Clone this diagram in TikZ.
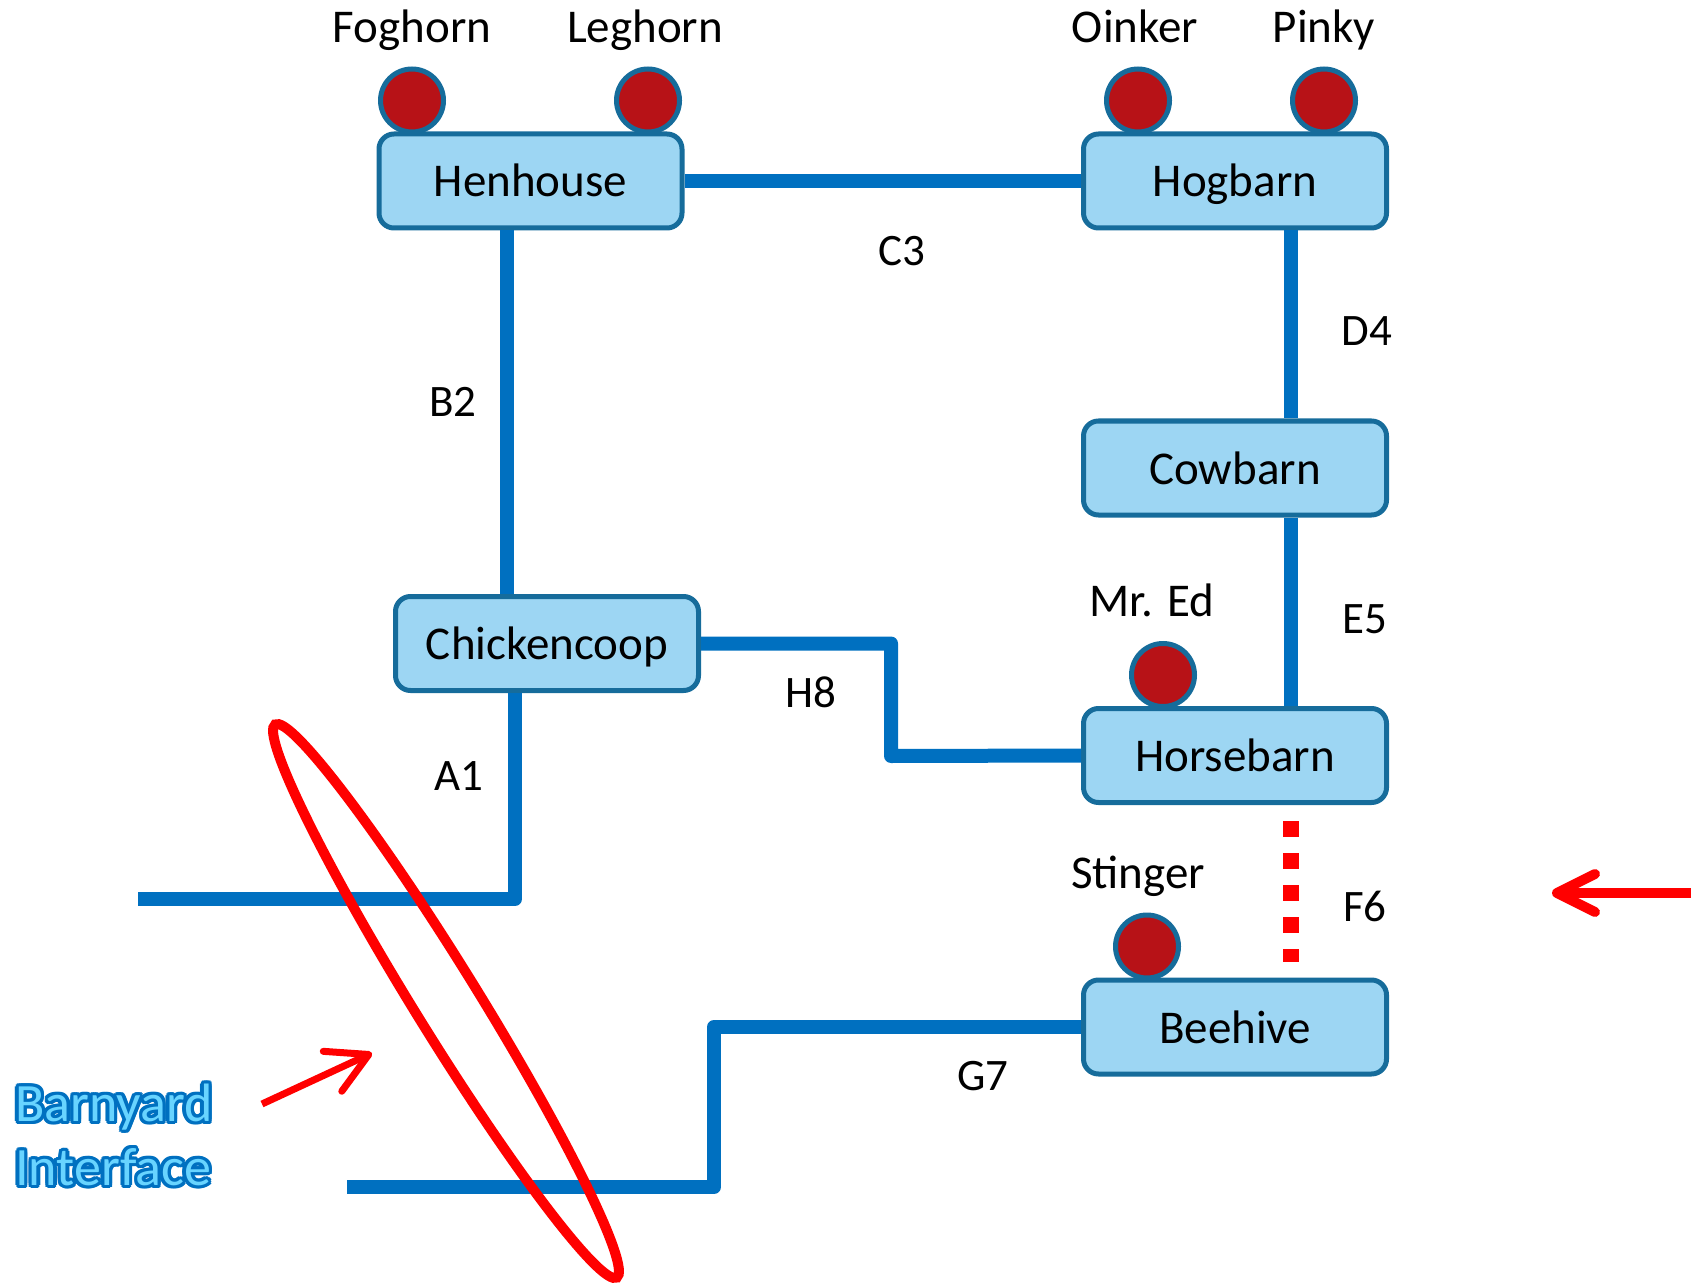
\documentclass[tikz,border=0pt]{standalone}
\usepackage{fontspec}
\setmainfont{Carlito}
\usepackage{tikz}
\usepackage{xcolor}
\usetikzlibrary{arrows.meta,positioning,calc}
\definecolor{Wire}{RGB}{0,112,192}
\definecolor{BoxFill}{RGB}{157,214,243}
\definecolor{BoxEdge}{RGB}{22,108,155}
\definecolor{Critter}{RGB}{183,18,23}
\definecolor{YardFill}{RGB}{104,212,255}

\begin{document}
\begin{tikzpicture}[x=0.5pt,y=-0.5pt,
    barn/.style={draw=BoxEdge, line width=2.5pt, fill=BoxFill, rounded corners=7.5pt,
      minimum width=151.5pt, minimum height=47pt, text height=18pt, text depth=2pt,
      font=\fontsize{23.5}{28}\selectfont},
    critter/.style={circle, draw=BoxEdge, line width=2.5pt, fill=Critter, minimum size=31.5pt, inner sep=0pt},
    tag/.style={inner sep=0pt, text height=16pt, text depth=2pt, font=\fontsize{23.5}{28}\selectfont},
    wirelabel/.style={inner sep=0pt, font=\fontsize{22.5}{27}\selectfont},
    link/.style={draw=Wire, line width=7pt, line join=round},
    dotlink/.style={draw=red, line width=8pt, dash pattern=on 8pt off 8pt, shorten <=8pt, shorten >=8pt},
    ring/.style={draw=red, line width=5pt},
    yard/.style={align=left, inner sep=0pt, font=\fontsize{27}{32}\selectfont}]
  \useasboundingbox (0,0) rectangle (1691,1283);

  % barns
  \node[barn] (hen) at (530.5,181) {Henhouse};
  \node[barn] (hog) at (1235,181) {Hogbarn};
  \node[barn] (cow) at (1235,468) {Cowbarn};
  \node[barn] (coop) at (547,643.5) {Chickencoop};
  \node[barn] (horse) at (1235,755.5) {Horsebarn};
  \node[barn] (bee) at (1235,1027) {Beehive};

  % animals sitting on the barns
  \foreach \n/\b/\dx/\lx/\t in {fog/hen/-59.25/0/Foghorn, leg/hen/58.75/-1.5/Leghorn,
      oink/hog/-48.5/-1.5/Oinker, pink/hog/44.5/0/Pinky,
      ed/horse/-36/-5.5/{Mr. Ed}, sting/bee/-44/-4.5/Stinger} {
    \node[critter, above=-1.5pt of \b, xshift=\dx pt] (\n) {};
    \node[tag, above=10pt of \n, xshift=\lx pt] (\n-name) {\t};
  }

  % wires
  \coordinate (h8bend) at (891,756);
  \coordinate (a1end) at (138,899);
  \coordinate (g7bend) at (714,1187);
  \coordinate (g7end) at (347,1187);
  \draw[link] (hen.east) -- (hog.west);
  \draw[link] ([xshift=-11.75pt]hen.south) -- ([xshift=-11.75pt]hen.south |- coop.north);
  \draw[link] ([xshift=28pt]hog.south) -- ([xshift=28pt]cow.north);
  \draw[link] ([xshift=28pt]cow.south) -- ([xshift=28pt]horse.north);
  \draw[link] (coop.east) -| (h8bend) -- (horse.west);
  \draw[link] ([xshift=-16pt]coop.south) |- (a1end);
  \draw[link] (bee.west) -| (g7bend) -- (g7end);
  \draw[dotlink] ([xshift=28pt]horse.south) -- ([xshift=28pt]bee.north);

  \node[wirelabel] (c3) at (902,251) {C3};
  \node[wirelabel] (d4) at (1367,331) {D4};
  \node[wirelabel] (b2) at (453,402) {B2};
  \node[wirelabel] (e5) at (1365,619) {E5};
  \node[wirelabel] (h8) at (811,692) {H8};
  \node[wirelabel] (a1) at (459,776) {A1};
  \node[wirelabel] (f6) at (1365,906) {F6};
  \node[wirelabel] (g7) at (983,1076) {G7};

  % interface callout
  \draw[ring, shift={(446,1001)}, rotate=-58.3] (0,0) ellipse [x radius=162.5pt, y radius=16pt];
  \coordinate (lefttail) at (262,1104);
  \coordinate (lefttip) at (372,1053);
  \coordinate (righttail) at (1700,893);
  \coordinate (righttip) at (1552,893);
  \draw[red, line width=3.5pt, -{Straight Barb[length=20pt, width=22pt, round]}] (lefttail) -- (lefttip);
  \draw[red, line width=5pt, -{Straight Barb[length=19pt, width=19pt, round]}] (righttail) -- (righttip);

  \coordinate (yardpos) at (114,1135);
  \foreach \a [count=\k] in {0,30,...,330}
    \node[yard, text=Wire] (yardedge\k) at ([shift={(\a:1.7pt)}]yardpos) {Barnyard\\Interface};
  \node[yard, text=YardFill] (yard) at (yardpos) {Barnyard\\Interface};
\end{tikzpicture}
\end{document}
